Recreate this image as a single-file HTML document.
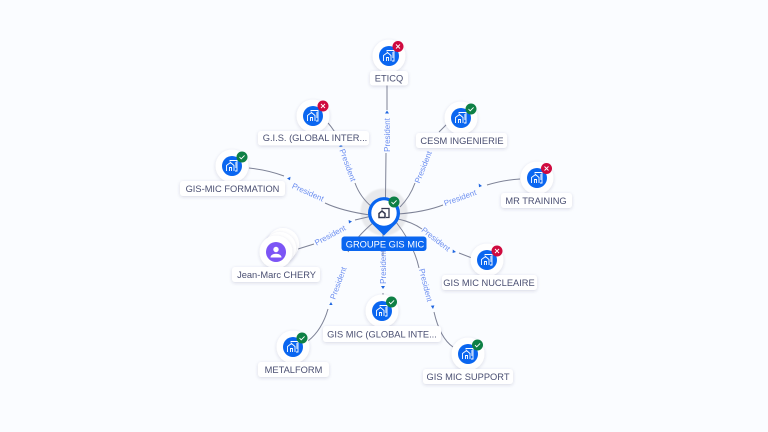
<!DOCTYPE html>
<html><head><meta charset="utf-8"><style>
html,body{margin:0;padding:0;background:#fafcff}
svg{display:block}
text{font-family:"Liberation Sans",sans-serif}
.e{fill:none;stroke:#7d8296;stroke-width:1}
.p{font-size:8px;fill:#6d8ff0;text-anchor:middle}
.l{font-size:9.3px;fill:#4a4f72;text-anchor:middle}
.a{fill:#1f66e0}
</style></head><body>
<svg width="768" height="432" viewBox="0 0 768 432" xmlns="http://www.w3.org/2000/svg">
<defs>
<filter id="s" x="-30%" y="-30%" width="160%" height="170%"><feDropShadow dx="0" dy="1" stdDeviation="1.6" flood-color="#39406a" flood-opacity=".18"/></filter>
<filter id="h" x="-30%" y="-30%" width="160%" height="160%"><feGaussianBlur stdDeviation=".8"/></filter>
<g id="b"><path d="M-5.500 5V-.5L-1.500-3.500 2-.5V5M-2.500 5V1.500H-.5V5M-2-4.500V-5.500H5V5H3M3-3H5M3-1H5M3 1H5" fill="none" stroke="#fff" stroke-width=".9"/></g>
<g id="n"><circle r="16.500" fill="#fff" filter="url(#s)"/><circle r="10" fill="#0a66f0"/><use href="#b"/></g>
<g id="ok"><circle r="5.500" fill="#0e8045"/><path d="M-2.500 0L-.8 1.800 2.600-1.600" fill="none" stroke="#fff" stroke-width=".9"/></g>
<g id="no"><circle r="5.500" fill="#cf0a3f"/><path d="M-2-2L2 2M2-2L-2 2" stroke="#fff" stroke-width=".9"/></g>
</defs>
<rect width="768" height="432" fill="#fafcff"/>

<circle cx="384" cy="212" r="23.500" fill="#e8e9ec" filter="url(#h)"/>

<!-- edges -->
<path class="e" d="M387 85V110M386 153L385.500 198"/>
<path class="e" d="M328 123Q336 132 340 143M355 183Q360 197 372 207"/>
<path class="e" d="M249 168Q268 170 284 176M325 203Q342 211 370 215"/>
<path class="e" d="M447 124L439 132M415 183Q410 197 400 207"/>
<path class="e" d="M520 179Q503 180 487 185M443 205Q425 212 398 214"/>
<path class="e" d="M298 249L314 244M355 220L372 216"/>
<path class="e" d="M459 253L472 258M398 219Q412 222 422 229"/>
<path class="e" d="M383 293V296M383 225V256"/>
<path class="e" d="M453 347Q440 338 434 312M419 268Q414 245 396 222"/>
<path class="e" d="M308 341Q322 330 328 309M348 252Q355 238 374 222"/>

<!-- arrowheads -->
<path class="a" d="M387 110.500l-2 3h4z"/>
<path class="a" d="M341 143.500l-1.800 3.400 3.400-.4z"/>
<path class="a" d="M287 178.500l3.500-1.800-.5 3.500z"/>
<path class="a" d="M482 186l-3.300-2.500.3 3.800z"/>
<path class="a" d="M352 221.500l-3.400-1.500 .4 3.500z"/>
<path class="a" d="M456 252l-3.200-2.500-.2 3.500z"/>
<path class="a" d="M383 289l-2-3h4z"/>
<path class="a" d="M433 309l-2.200-3.200 3.600-.4z"/>
<path class="a" d="M331 302l-1.800 3h3.400z"/>

<!-- connector labels -->
<text class="p" transform="translate(387 135) rotate(-90)" dy="3">President</text>
<text class="p" transform="translate(348 165) rotate(70)" dy="3">President</text>
<text class="p" transform="translate(308 192) rotate(24)" dy="3">President</text>
<text class="p" transform="translate(423 167) rotate(-68)" dy="3">President</text>
<text class="p" transform="translate(460 197.500) rotate(-20)" dy="3">President</text>
<text class="p" transform="translate(330 235) rotate(-28)" dy="3">President</text>
<text class="p" transform="translate(436 239) rotate(38)" dy="3">President</text>
<text class="p" transform="translate(383 267) rotate(-90)" dy="3">President</text>
<text class="p" transform="translate(426 285) rotate(76)" dy="3">President</text>
<text class="p" transform="translate(338 283) rotate(-70)" dy="3">President</text>

<!-- nodes -->
<use href="#n" x="389" y="56"/><use href="#no" x="398" y="46.500"/>
<use href="#n" x="313" y="116"/><use href="#no" x="323" y="106"/>
<use href="#n" x="232" y="166"/><use href="#ok" x="242" y="157"/>
<use href="#n" x="461" y="118"/><use href="#ok" x="471" y="109"/>
<use href="#n" x="537" y="178"/><use href="#no" x="546.500" y="168.500"/>
<use href="#n" x="487" y="260"/><use href="#no" x="497" y="251"/>
<use href="#n" x="382" y="311"/><use href="#ok" x="391.500" y="302"/>
<use href="#n" x="468" y="354"/><use href="#ok" x="477.500" y="345"/>
<use href="#n" x="293" y="347"/><use href="#ok" x="302" y="338"/>

<!-- person -->
<circle cx="283" cy="244" r="16" fill="#fff" filter="url(#s)"/>
<circle cx="280" cy="248" r="16" fill="#fff" filter="url(#s)"/>
<circle cx="276" cy="252" r="16.500" fill="#fff" filter="url(#s)"/>
<circle cx="276" cy="252" r="10" fill="#7c55f5"/>
<circle cx="276" cy="249.500" r="2.700" fill="#fff"/>
<path d="M270.500 257.500c0-5 11-5 11 0z" fill="#fff"/>

<!-- center -->
<path d="M384 235.500L372.500 224.300A16 16 0 1 1 395.500 224.300Z" fill="#0a66f0"/>
<circle cx="384" cy="213" r="12.700" fill="#fff"/>
<g transform="translate(384 213)"><path d="M-5 4.500V.5L-2-2 1 .5V4.500Z" fill="none" stroke="#343950" stroke-width="1.500"/><path d="M-2-3.500V-4.500H5V4.500H2" fill="none" stroke="#343950" stroke-width="1.300"/></g>
<use href="#ok" x="394" y="202"/>

<!-- labels -->
<g filter="url(#s)" fill="#fff">
<rect x="370" y="71" width="38" height="14.500" rx="3"/>
<rect x="258" y="131" width="111" height="14.500" rx="3"/>
<rect x="180" y="181" width="105" height="15" rx="3"/>
<rect x="416" y="133" width="91" height="15" rx="3"/>
<rect x="501" y="193" width="71" height="15" rx="3"/>
<rect x="232" y="267" width="88" height="15" rx="3"/>
<rect x="442" y="275" width="95" height="15" rx="3"/>
<rect x="323" y="326" width="118" height="16" rx="3"/>
<rect x="423" y="369" width="90" height="15" rx="3"/>
<rect x="258" y="362" width="71" height="15" rx="3"/>
</g>
<rect x="341.500" y="236.500" width="85" height="14.500" rx="3" fill="#0a66f0"/>
<text class="l" x="389" y="81.500">ETICQ</text>
<text class="l" x="315" y="141">G.I.S. (GLOBAL INTER...</text>
<text class="l" x="232.500" y="192">GIS-MIC FORMATION</text>
<text class="l" x="462" y="144">CESM INGENIERIE</text>
<text class="l" x="536" y="204">MR TRAINING</text>
<text class="l" x="276.500" y="278">Jean-Marc CHERY</text>
<text class="l" x="489" y="286">GIS MIC NUCLEAIRE</text>
<text class="l" x="382" y="337.500">GIS MIC (GLOBAL INTE...</text>
<text class="l" x="468" y="380">GIS MIC SUPPORT</text>
<text class="l" x="293.500" y="373">METALFORM</text>
<text class="l" x="385" y="247.500" style="fill:#fff">GROUPE GIS MIC</text>
</svg>
</body></html>
